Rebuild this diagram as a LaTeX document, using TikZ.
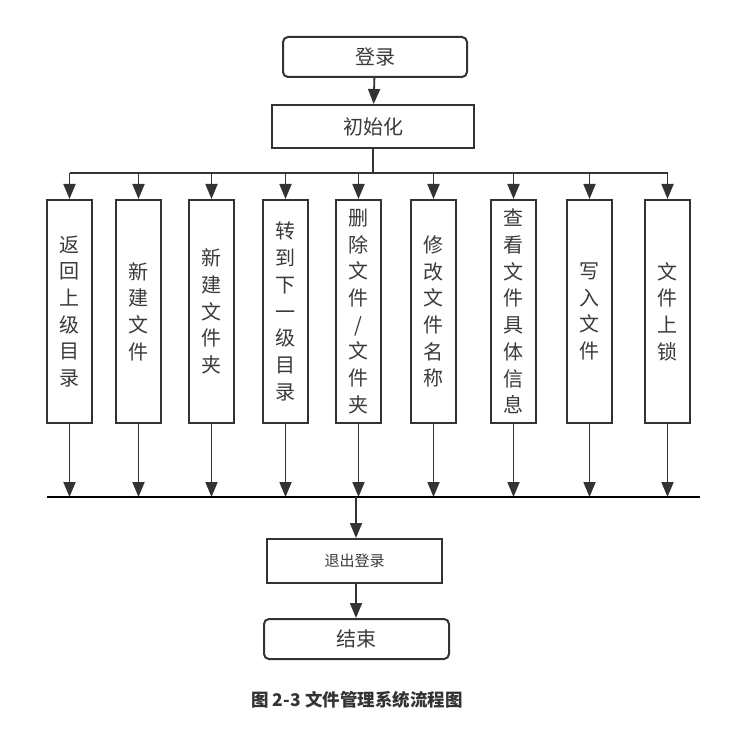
\documentclass[tikz,border=0pt]{standalone}
\usepackage{fontspec}
\newfontfamily\cjk{Noto Sans CJK SC}
\usetikzlibrary{arrows.meta}
\definecolor{ln}{HTML}{333333}
\definecolor{tx}{HTML}{3A3A3A}
\tikzset{
  arr/.style={draw=ln, line width=1.8pt, -{Triangle[length=15pt,width=12pt]}},
  plain/.style={draw=ln, line width=1.8pt},
  box/.style={draw=ln, line width=2pt, fill=white, text=tx, inner sep=0pt, align=center},
  rbox/.style={box, rounded corners=5pt},
  vbox/.style={box, minimum width=45pt, minimum height=223pt, font=\cjk\fontsize{20}{26.7}\selectfont},
}
\begin{document}
\begin{tikzpicture}[x=1pt,y=-1pt]
\useasboundingbox (0,0) rectangle (746,735);
\fill[white] (0,0) rectangle (746,735);
% top nodes
\node[rbox, minimum width=184pt, minimum height=40pt, font=\cjk\fontsize{20}{24}\selectfont] (login) at (375,57) {登录};
\node[box, minimum width=202pt, minimum height=43pt, font=\cjk\fontsize{20}{24}\selectfont] (init) at (373,126.5) {初始化};
% vertical boxes
\node[vbox] (b1) at (69.5,311.5) {返\\回\\上\\级\\目\\录};
\node[vbox] (b2) at (138.5,311.5) {新\\建\\文\\件};
\node[vbox] (b3) at (211.5,311.5) {新\\建\\文\\件\\夹};
\node[vbox] (b4) at (285.5,311.5) {转\\到\\下\\一\\级\\目\\录};
\node[vbox] (b5) at (358.5,311.5) {删\\除\\文\\件\\/\\文\\件\\夹};
\node[vbox] (b6) at (433.5,311.5) {修\\改\\文\\件\\名\\称};
\node[vbox] (b7) at (513.5,311.5) {查\\看\\文\\件\\具\\体\\信\\息};
\node[vbox] (b8) at (589.5,311.5) {写\\入\\文\\件};
\node[vbox] (b9) at (667.5,311.5) {文\\件\\上\\锁};
% bottom nodes
\node[box, minimum width=175pt, minimum height=44pt, font=\cjk\fontsize{15}{18}\selectfont] (logout) at (354.5,561) {退出登录};
\node[rbox, minimum width=185pt, minimum height=40pt, font=\cjk\fontsize{20}{24}\selectfont] (end) at (356.5,639) {结束};
% caption
\node[text=ln, font=\cjk\bfseries\fontsize{17.5}{20}\selectfont] (cap) at (357,700) {图 2-3 文件管理系统流程图};
% bus coordinates
\coordinate (topbus) at (0,173);
\coordinate (busL) at (47,497);
\coordinate (busR) at (700,497);
\coordinate (busM) at (356,497);
% connectors
\draw[arr] (login) -- (init);
\draw[plain] (init.south) -- (init.south |- topbus);
\draw[plain] (b1.north |- topbus) -- (b9.north |- topbus);
\foreach \i in {1,...,9} {
  \draw[arr] (b\i.north |- topbus) -- (b\i.north);
  \draw[arr] (b\i.south) -- (b\i.south |- busL);
}
\draw[draw=black, line width=2.2pt] (busL) -- (busR);
\draw[arr] (busM) -- (busM |- logout.north);
\draw[arr] (logout.south -| busM) -- (busM |- end.north);
\end{tikzpicture}
\end{document}
